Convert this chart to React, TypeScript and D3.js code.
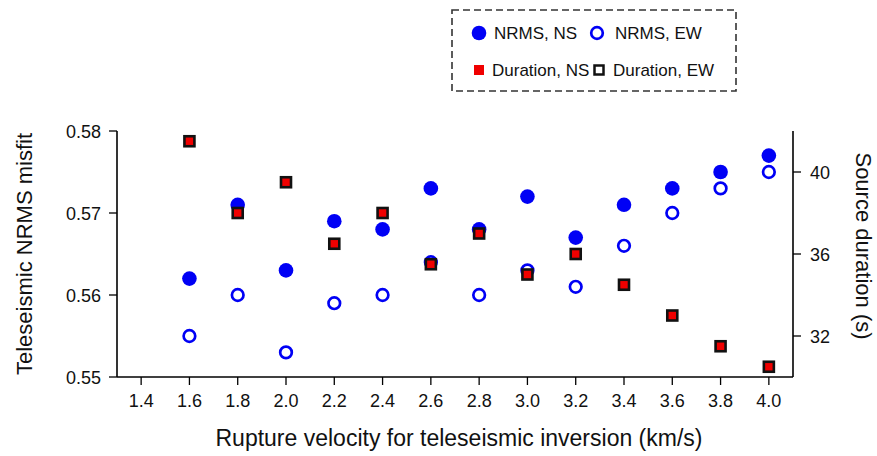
import React from "react";
import * as d3 from "d3";

// Rupture velocity (km/s) used in each teleseismic inversion
const velocities = [1.6, 1.8, 2.0, 2.2, 2.4, 2.6, 2.8, 3.0, 3.2, 3.4, 3.6, 3.8, 4.0];

// NRMS misfit of the NS and EW fault-plane solutions
const nrmsNS = [0.562, 0.571, 0.563, 0.569, 0.568, 0.573, 0.568, 0.572, 0.567, 0.571, 0.573, 0.575, 0.577];
const nrmsEW = [0.555, 0.56, 0.553, 0.559, 0.56, 0.564, 0.56, 0.563, 0.561, 0.566, 0.57, 0.573, 0.575];

// Source duration (s) of the NS and EW solutions
const durationNS = [41.5, 38, 39.5, 36.5, 38, 35.5, 37, 35, 36, 34.5, 33, 31.5, 30.5];
const durationEW = [41.5, 38, 39.5, 36.5, 38, 35.5, 37, 35, 36, 34.5, 33, 31.5, 30.5];

// Tick labels
const xTicks = [1.4, 1.6, 1.8, 2.0, 2.2, 2.4, 2.6, 2.8, 3.0, 3.2, 3.4, 3.6, 3.8, 4.0];
const leftTicks = [0.55, 0.56, 0.57, 0.58];
const rightTicks = [32, 36, 40];

const W = 877;
const H = 456;
const left = 117;
const right = 793;
const top = 131;
const bottom = 377;

const FONT = "'Liberation Sans', Arial, Helvetica, sans-serif";
const BLUE = "#0000f5";
const RED = "#f00000";

export default function App() {
  const x = d3.scaleLinear().domain([1.3, 4.1]).range([left, right]);
  const yL = d3.scaleLinear().domain([0.55, 0.58]).range([bottom, top]);
  const yR = d3.scaleLinear().domain([30, 42]).range([bottom, top]);

  const sq = 10;

  return (
    <svg
      width={W}
      height={H}
      viewBox={`0 0 ${W} ${H}`}
      style={{ position: "absolute", left: 0, top: 0, background: "#fff" }}
      fontFamily={FONT}
    >
      {/* Axes */}
      <g stroke="#000" strokeWidth={1.6} fill="none">
        <line x1={left} y1={top} x2={left} y2={bottom} />
        <line x1={left} y1={bottom} x2={right} y2={bottom} />
        <line x1={right} y1={top} x2={right} y2={bottom} />
      </g>

      {/* Bottom axis ticks */}
      {xTicks.map((t) => (
        <g key={"x" + t}>
          <line x1={x(t)} x2={x(t)} y1={bottom} y2={bottom + 8} stroke="#000" strokeWidth={1.3} />
          <text x={x(t)} y={407} fontSize={18} textAnchor="middle" fill="#111">
            {t.toFixed(1)}
          </text>
        </g>
      ))}

      {/* Left axis ticks */}
      {leftTicks.map((t) => (
        <g key={"l" + t}>
          <line x1={left - 8} x2={left} y1={yL(t)} y2={yL(t)} stroke="#000" strokeWidth={1.3} />
          <text x={101} y={yL(t) + 6.5} fontSize={18} textAnchor="end" fill="#111">
            {t.toFixed(2)}
          </text>
        </g>
      ))}

      {/* Right axis ticks */}
      {rightTicks.map((t) => (
        <g key={"r" + t}>
          <line x1={right} x2={right + 8} y1={yR(t)} y2={yR(t)} stroke="#000" strokeWidth={1.3} />
          <text x={810} y={yR(t) + 6.5} fontSize={18} textAnchor="start" fill="#111">
            {t}
          </text>
        </g>
      ))}

      {/* Axis titles */}
      <text x={459} y={446} fontSize={23} textAnchor="middle" fill="#111">
        Rupture velocity for teleseismic inversion (km/s)
      </text>
      <text
        transform={`translate(32,254) rotate(-90)`}
        fontSize={22}
        textAnchor="middle"
        fill="#111"
      >
        Teleseismic NRMS misfit
      </text>
      <text
        transform={`translate(856,246) rotate(90)`}
        fontSize={22}
        textAnchor="middle"
        fill="#111"
      >
        Source duration (s)
      </text>

      {/* NRMS misfit markers */}
      {velocities.map((v, i) => (
        <circle key={"ew" + i} cx={x(v)} cy={yL(nrmsEW[i])} r={5.8} fill="#fff" stroke={BLUE} strokeWidth={2.7} />
      ))}
      {velocities.map((v, i) => (
        <circle key={"ns" + i} cx={x(v)} cy={yL(nrmsNS[i])} r={7.3} fill={BLUE} />
      ))}

      {/* Source duration markers */}
      {velocities.map((v, i) => (
        <rect key={"dns" + i} x={x(v) - sq / 2} y={yR(durationNS[i]) - sq / 2} width={sq} height={sq} fill={RED} />
      ))}
      {velocities.map((v, i) => (
        <rect
          key={"dew" + i}
          x={x(v) - sq / 2}
          y={yR(durationEW[i]) - sq / 2}
          width={sq}
          height={sq}
          fill="none"
          stroke="#111"
          strokeWidth={2.6}
        />
      ))}

      {/* Legend */}
      <rect x={452} y={10} width={284} height={81} fill="#fff" stroke="#333" strokeWidth={1.6} strokeDasharray="7,4" />
      <circle cx={479} cy={33} r={7.3} fill={BLUE} />
      <text x={494} y={39} fontSize={17} fill="#111">NRMS, NS</text>
      <circle cx={597} cy={33} r={5.8} fill="#fff" stroke={BLUE} strokeWidth={2.7} />
      <text x={615} y={39} fontSize={17} fill="#111">NRMS, EW</text>
      <rect x={474} y={65} width={10} height={10} fill={RED} />
      <text x={492} y={76} fontSize={17} fill="#111">Duration, NS</text>
      <rect x={594.5} y={65.5} width={9} height={9} fill="#fff" stroke="#111" strokeWidth={2.5} />
      <text x={613} y={76} fontSize={17} fill="#111">Duration, EW</text>
    </svg>
  );
}
